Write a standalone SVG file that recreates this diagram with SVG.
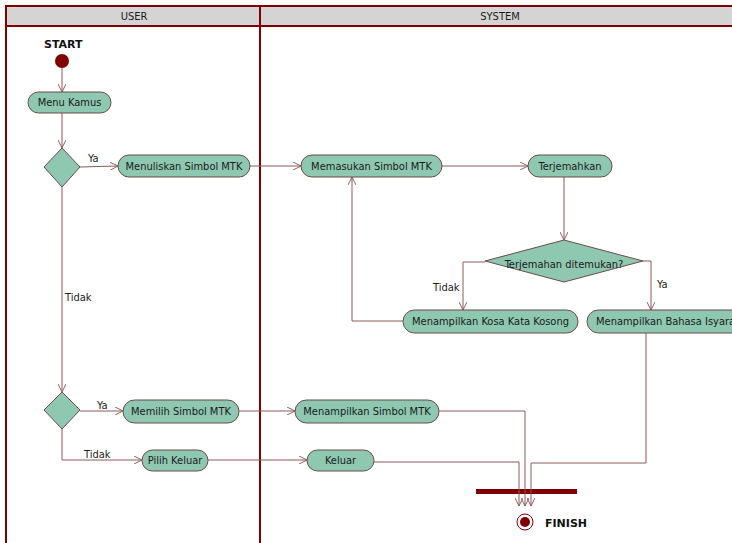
<svg xmlns="http://www.w3.org/2000/svg" width="732" height="543" viewBox="0 0 732 543">
<style>
.lane{fill:none;stroke:#800000;stroke-width:2}
.hdr{fill:#d4d4d4;stroke:#800000;stroke-width:2}
.node{fill:#8fc8b1;stroke:#6b4a45;stroke-width:1}
.t{font-family:"DejaVu Sans Condensed","DejaVu Sans",sans-serif;font-size:11px;fill:#1a1a1a;text-anchor:middle;dominant-baseline:central}
.tl{font-family:"DejaVu Sans Condensed","DejaVu Sans",sans-serif;font-size:11px;fill:#1a1a1a;dominant-baseline:central}
.b{font-family:"DejaVu Sans",sans-serif;font-size:11px;font-weight:bold;fill:#111}
.c{fill:none;stroke:#8a5a58;stroke-width:1}
</style>
<defs>
<marker id="a" viewBox="0 0 10 10" refX="10" refY="5" markerWidth="8" markerHeight="8" markerUnits="userSpaceOnUse" orient="auto">
<path d="M0,0 L10,5 L0,10" fill="none" stroke="#8a5a58" stroke-width="1.2"/>
</marker>
</defs>
<rect width="732" height="543" fill="#fff"/>
<g id="lanes">
<rect class="hdr" x="6" y="6" width="730" height="20"/>
<line class="lane" x1="6" y1="6" x2="6" y2="545"/>
<line class="lane" x1="260" y1="6" x2="260" y2="545"/>
<text class="t" x="134" y="16.5" style="font-family:'DejaVu Sans Condensed','DejaVu Sans',sans-serif">USER</text>
<text class="t" x="500" y="16.5">SYSTEM</text>
</g>
<g id="finish-bar"><rect x="476" y="489" width="101" height="5" fill="#800000"/></g>
<g id="connectors">
<path class="c" marker-end="url(#a)" d="M62,68 L62,92"/>
<path class="c" marker-end="url(#a)" d="M62,113 L62,148"/>
<path class="c" marker-end="url(#a)" d="M80,167 L118,166"/>
<path class="c" marker-end="url(#a)" d="M250,166 L301,166"/>
<path class="c" marker-end="url(#a)" d="M442,166 L528,166"/>
<path class="c" marker-end="url(#a)" d="M564,177 L564,240"/>
<path class="c" marker-end="url(#a)" d="M485,262 L463,262 L463,310"/>
<path class="c" marker-end="url(#a)" d="M643,261 L651,261 L651,310"/>
<path class="c" marker-end="url(#a)" d="M403,321 L352,321 L352,177"/>
<path class="c" marker-end="url(#a)" d="M62,187 L62,392"/>
<path class="c" marker-end="url(#a)" d="M80,411 L123,411"/>
<path class="c" marker-end="url(#a)" d="M239,411 L295,411"/>
<path class="c" marker-end="url(#a)" d="M62,429 L62,460 L142,460"/>
<path class="c" marker-end="url(#a)" d="M208,460 L307,460"/>
<path class="c" marker-end="url(#a)" d="M439,411 L525,411 L525,506"/>
<path class="c" marker-end="url(#a)" d="M374,462 L519,462 L519,506"/>
<path class="c" marker-end="url(#a)" d="M646,333 L646,463 L531,463 L531,506"/>
<text class="tl" x="88" y="158">Ya</text>
<text class="tl" x="65" y="297">Tidak</text>
<text class="tl" x="97" y="405">Ya</text>
<text class="tl" x="84" y="454">Tidak</text>
<text class="tl" x="433" y="287">Tidak</text>
<text class="tl" x="657" y="284">Ya</text>
</g>
<g id="start">
<circle cx="62" cy="61" r="7" fill="#800000"/>
<text class="b" x="44" y="48">START</text>
</g>
<g id="menu-kamus"><rect class="node" x="28" y="92" width="83" height="21" rx="10.5"/><text class="t" x="69.5" y="102.5">Menu Kamus</text></g>
<g id="decision1"><polygon class="node" points="62,148 80,167 62,187 44,167"/></g>
<g id="menuliskan"><rect class="node" x="118" y="155" width="132" height="22" rx="11"/><text class="t" x="184" y="166">Menuliskan Simbol MTK</text></g>
<g id="memasukan"><rect class="node" x="301" y="155" width="141" height="22" rx="11"/><text class="t" x="371.5" y="166">Memasukan Simbol MTK</text></g>
<g id="terjemahkan"><rect class="node" x="528" y="155" width="84" height="22" rx="11"/><text class="t" x="570" y="166">Terjemahkan</text></g>
<g id="decision2"><polygon class="node" points="564,240 643,261 564,282 485,261"/><text class="t" x="564" y="264">Terjemahan ditemukan?</text></g>
<g id="kosong"><rect class="node" x="403" y="310" width="175" height="23" rx="11.5"/><text class="t" x="490.5" y="321.5">Menampilkan Kosa Kata Kosong</text></g>
<g id="isyarat"><rect class="node" x="587" y="310" width="170" height="23" rx="11.5"/><text class="tl" x="596" y="321.5">Menampilkan Bahasa Isyarat</text></g>
<g id="decision3"><polygon class="node" points="62,392 80,410 62,429 44,410"/></g>
<g id="memilih"><rect class="node" x="123" y="400" width="116" height="23" rx="11.5"/><text class="t" x="181" y="411.5">Memilih Simbol MTK</text></g>
<g id="menampilkan-simbol"><rect class="node" x="295" y="400" width="144" height="23" rx="11.5"/><text class="t" x="367" y="411.5">Menampilkan Simbol MTK</text></g>
<g id="pilih-keluar"><rect class="node" x="142" y="450" width="66" height="21" rx="10.5"/><text class="t" x="175" y="460.5">Pilih Keluar</text></g>
<g id="keluar"><rect class="node" x="307" y="450" width="67" height="21" rx="10.5"/><text class="t" x="340.5" y="460.5">Keluar</text></g>
<g id="finish">
<circle cx="525" cy="522" r="8" fill="#fff" stroke="#800000" stroke-width="1"/>
<circle cx="525" cy="522" r="5" fill="#800000"/>
<text class="b" x="545" y="527">FINISH</text>
</g>
</svg>
